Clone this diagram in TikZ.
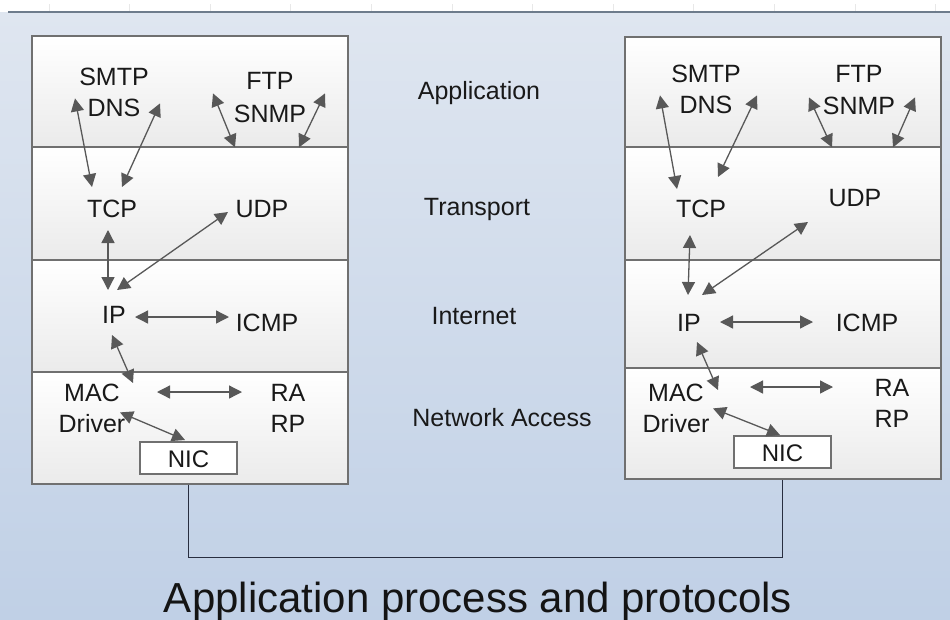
\documentclass[tikz,border=0pt]{standalone}
\usepackage{fontspec}
\setmainfont{Liberation Sans}
\usetikzlibrary{arrows.meta,positioning,calc}
\definecolor{bgtop}{RGB}{223,230,240}
\definecolor{bgbot}{RGB}{192,208,230}
\definecolor{boxline}{RGB}{112,112,112}
\definecolor{arrowgray}{RGB}{88,88,88}
\definecolor{linkline}{RGB}{40,46,64}
\definecolor{rulerline}{RGB}{110,124,140}

\begin{document}
\begin{tikzpicture}[
    x=1pt, y=-1pt,
    lbl/.style={font=\fontsize{25}{30}\selectfont, inner sep=0pt, text height=18pt, text depth=0pt, text=black!90},
    layer/.style={draw=boxline, line width=1.3pt, minimum width=316pt, top color=white, bottom color=black!8, inner sep=0pt},
    nicbox/.style={lbl, draw=boxline, line width=1.2pt, fill=white, minimum width=97pt, minimum height=32pt, font=\fontsize{24}{28}\selectfont},
    arr/.style={{Triangle[width=13pt,length=13pt]}-{Triangle[width=13pt,length=13pt]}, draw=arrowgray, line width=1.3pt},
    link/.style={draw=linkline, line width=1.3pt},
    tick/.style={draw=gray!18, line width=0.8pt}
]
    \useasboundingbox (0,0) rectangle (950,619);

    % Background and ruler
    \fill[top color=bgtop, bottom color=bgbot] (0,12) rectangle (950,619);
    \draw[rulerline, line width=2.5pt] (8,12) -- (950,12);
    \foreach \i in {0,...,11}
        \draw[tick] ({49+80.6*\i},4) -- ({49+80.6*\i},11);

    % Left stack
    \node[layer, minimum height=111pt] (appL) at (190,91.5) {};
    \node[layer, minimum height=113pt] (trnL) at (190,203.5) {};
    \node[layer, minimum height=112pt] (intL) at (190,316) {};
    \node[layer, minimum height=112pt] (netL) at (190,428) {};

    \node[lbl] (smtpL) at (114,76) {SMTP};
    \node[lbl, below=13pt of smtpL] (dnsL) {DNS};
    \node[lbl] (ftpL) at (270,80) {FTP};
    \node[lbl, below=15pt of ftpL] (snmpL) {SNMP};
    \node[lbl] (tcpL) at (112,208) {TCP};
    \node[lbl] (udpL) at (262,208) {UDP};
    \node[lbl] (ipL) at (114,314) {IP};
    \node[lbl] (icmpL) at (267,322) {ICMP};
    \node[lbl] (macL) at (92,392) {MAC};
    \node[lbl, below=13pt of macL] (drvL) {Driver};
    \node[lbl] (raL) at (288,392) {RA};
    \node[lbl, below=13pt of raL] (rpL) {RP};
    \node[nicbox] (nicL) at (188.5,458) {NIC};

    % Right stack
    \node[layer, minimum height=110pt] (appR) at (783,92) {};
    \node[layer, minimum height=113pt] (trnR) at (783,203.5) {};
    \node[layer, minimum height=108pt] (intR) at (783,314) {};
    \node[layer, minimum height=111pt] (netR) at (783,423.5) {};

    \node[lbl] (smtpR) at (706,73) {SMTP};
    \node[lbl, below=13pt of smtpR] (dnsR) {DNS};
    \node[lbl] (ftpR) at (859,73) {FTP};
    \node[lbl, below=14pt of ftpR] (snmpR) {SNMP};
    \node[lbl] (tcpR) at (701,208) {TCP};
    \node[lbl] (udpR) at (855,197) {UDP};
    \node[lbl] (ipR) at (689,322) {IP};
    \node[lbl] (icmpR) at (867,322) {ICMP};
    \node[lbl] (macR) at (676,392) {MAC};
    \node[lbl, below=13pt of macR] (drvR) {Driver};
    \node[lbl] (raR) at (892,387) {RA};
    \node[lbl, below=13pt of raR] (rpR) {RP};
    \node[nicbox] (nicR) at (782.5,452) {NIC};

    % Layer names
    \node[lbl] (lapp) at (479,90) {Application};
    \node[lbl] (ltrn) at (477,206) {Transport};
    \node[lbl] (lint) at (474,315) {Internet};
    \node[lbl] (lnet) at (502,417) {Network Access};

    % Left arrows
    \draw[arr] ($(dnsL)+(-39,-9)$) -- ($(tcpL)+(-20,-21)$);
    \draw[arr] ($(dnsL)+(46,-4)$) -- ($(tcpL)+(10,-21)$);
    \draw[arr] ($(snmpL)+(-57,-20)$) -- ($(snmpL)+(-35,34)$);
    \draw[arr] ($(snmpL)+(55,-20)$) -- ($(snmpL)+(29,34)$);
    \draw[arr] ($(tcpL)+(-4,22)$) -- ($(ipL)+(-6,-24)$);
    \draw[arr] ($(ipL)+(3,-24)$) -- ($(udpL)+(-34,4)$);
    \draw[arr] ($(ipL)+(21,3)$) -- ($(icmpL)+(-38,-5)$);
    \draw[arr] ($(ipL)+(-2,21)$) -- ($(macL)+(41,-9)$);
    \draw[arr] ($(macL)+(65,0)$) -- ($(raL)+(-46,0)$);
    \draw[arr] ($(drvL)+(28,-11)$) -- ($(nicL)+(-3.5,-18)$);

    % Right arrows
    \draw[arr] ($(dnsR)+(-46,-9)$) -- ($(tcpR)+(-24,-19)$);
    \draw[arr] ($(dnsR)+(51,-9)$) -- ($(tcpR)+(17,-31)$);
    \draw[arr] ($(snmpR)+(-50,-8)$) -- ($(snmpR)+(-27,42)$);
    \draw[arr] ($(snmpR)+(56,-8)$) -- ($(snmpR)+(34,42)$);
    \draw[arr] ($(tcpR)+(-11,27)$) -- ($(ipR)+(-1,-27)$);
    \draw[arr] ($(ipR)+(13,-27)$) -- ($(udpR)+(-47,25)$);
    \draw[arr] ($(ipR)+(31,0)$) -- ($(icmpR)+(-54,0)$);
    \draw[arr] ($(ipR)+(8,20)$) -- ($(macR)+(42,-2)$);
    \draw[arr] ($(macR)+(74,-5)$) -- ($(raR)+(-59,0)$);
    \draw[arr] ($(drvR)+(37,-15)$) -- ($(nicR)+(-2.5,-17)$);

    % Link between the two NICs
    \draw[link] (nicL.south |- netL.south) -- ++(0,73) -| (nicR.south |- netR.south);

    % Caption
    \node[font=\fontsize{42}{48}\selectfont, inner sep=0pt, text height=30pt, text depth=0pt, text=black!92] (title) at (478,597) {Application process and protocols};
\end{tikzpicture}
\end{document}
